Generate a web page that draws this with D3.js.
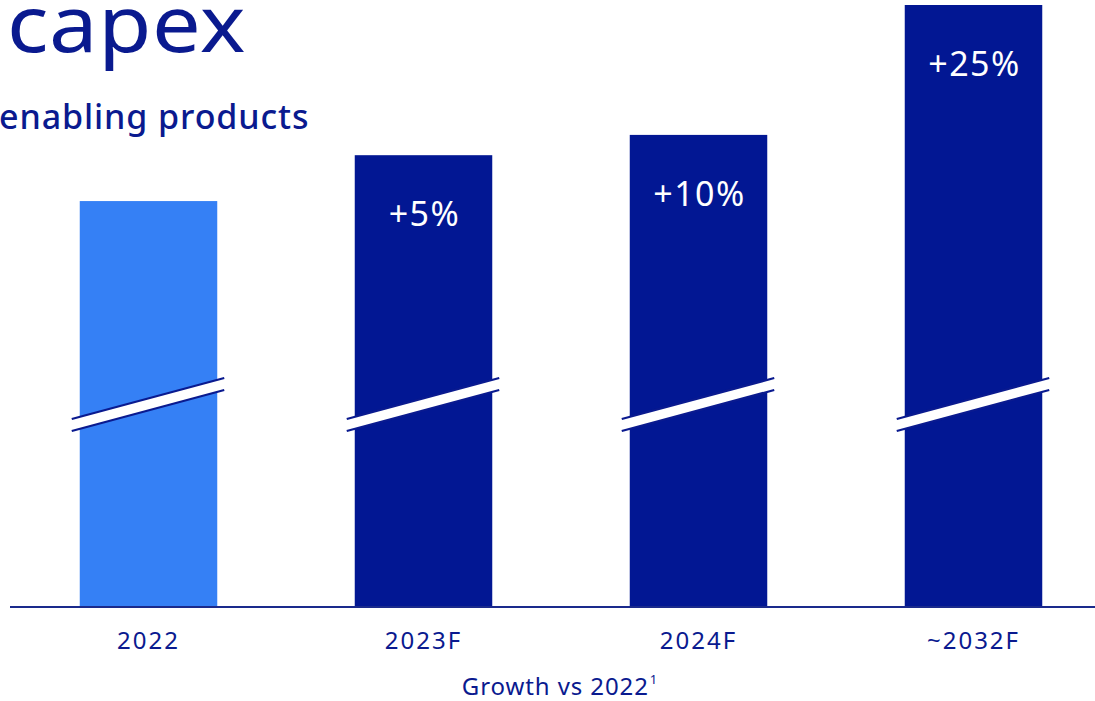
<!DOCTYPE html>
<html><head><meta charset="utf-8">
<script src="https://cdn.jsdelivr.net/npm/d3@7"></script>
<style>html,body{margin:0;padding:0;background:#fff;overflow:hidden}</style>
</head><body>
<svg id="c" width="1095" height="701"></svg>
<script>
// Data (illustrative index; 2022 = 100)
const categories = ["2022", "2023F", "2024F", "~2032F"];
const barIndex = [100, 111.3, 116.3, 148.3];
const growthLabels = ["", "+5%", "+10%", "+25%"];
const barColors = ["#3580F5", "#021793", "#021793", "#021793"];

const navy = "#0a1a8f";
const svg = d3.select("#c");
const W = 1095, H = 701;
const baseY = 607;

const x = d3.scaleBand().domain(categories).range([11, 1111]).paddingInner(0.5).paddingOuter(0.25);
const y = d3.scaleLinear().domain([0, d3.max(barIndex)]).range([baseY, 5]);

// Title
svg.append("text").attr("transform", "translate(7,52) scale(1.11,1)")
  .attr("font-family", "Noto Sans").attr("font-size", 78).attr("fill", navy)
  .attr("letter-spacing", 0.5).text("capex");
svg.append("text").attr("x", -1).attr("y", 129)
  .attr("font-family", "Noto Sans").attr("font-weight", 500).attr("font-size", 34).attr("fill", navy)
  .attr("letter-spacing", 0.9).text("enabling products");

// Bars
const g = svg.append("g");
g.selectAll("rect.bar").data(categories).join("rect")
  .attr("class", "bar")
  .attr("x", d => x(d)).attr("width", x.bandwidth())
  .attr("y", (d, i) => y(barIndex[i])).attr("height", (d, i) => baseY - y(barIndex[i]))
  .attr("fill", (d, i) => barColors[i]);

// Break marks
const bw = x.bandwidth();
categories.forEach(d => {
  const x0 = x(d) - 8, x1 = x(d) + bw + 7;
  const yl = 419, yr = 378, gap = 12;
  svg.append("path")
    .attr("d", `M${x0},${yl}L${x1},${yr}L${x1},${yr + gap}L${x0},${yl + gap}Z`)
    .attr("fill", "#fff");
  [0, gap].forEach(o => svg.append("line")
    .attr("x1", x0).attr("y1", yl + o).attr("x2", x1).attr("y2", yr + o)
    .attr("stroke", navy).attr("stroke-width", 2.2));
});

// Growth labels
g.selectAll("text.gl").data(categories).join("text")
  .attr("class", "gl")
  .attr("x", d => x(d) + bw / 2 + 1)
  .attr("y", (d, i) => y(barIndex[i]) + 71)
  .attr("text-anchor", "middle")
  .attr("font-family", "Noto Sans").attr("font-size", 34).attr("fill", "#fff")
  .attr("letter-spacing", 1.5)
  .text((d, i) => growthLabels[i]);

// Axis
const axis = d3.axisBottom(x).tickSize(0).tickPadding(25);
const ax = svg.append("g").attr("transform", `translate(0,${baseY})`).call(axis);
ax.select(".domain").remove();
ax.selectAll("text").attr("font-family", "Noto Sans").attr("font-size", 24)
  .attr("letter-spacing", 2).attr("fill", navy);
svg.append("line").attr("x1", 10).attr("x2", W).attr("y1", baseY).attr("y2", baseY)
  .attr("stroke", "#1a2a8c").attr("stroke-width", 2);

// Footer
const ft = svg.append("text").attr("x", 560).attr("y", 695).attr("text-anchor", "middle")
  .attr("font-family", "Noto Sans").attr("font-size", 24).attr("fill", navy).attr("letter-spacing", 0.9);
ft.append("tspan").text("Growth vs 2022");
ft.append("tspan").attr("font-size", 13).attr("dy", -11).attr("dx", 1).text("1");
</script>
</body></html>
